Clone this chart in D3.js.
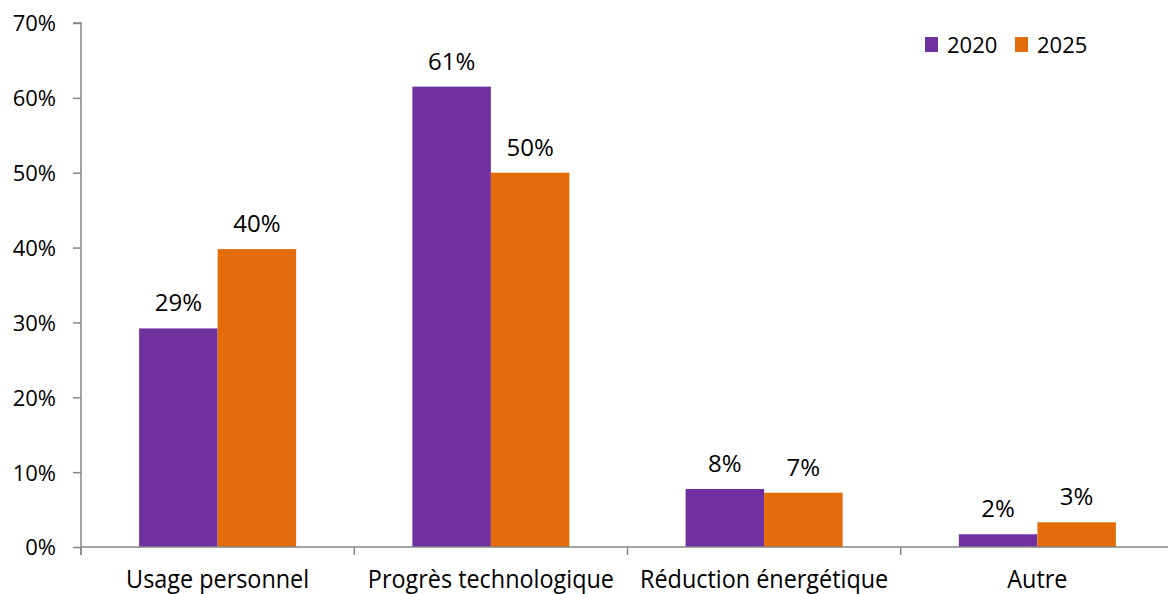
<!DOCTYPE html>
<html><head><meta charset="utf-8">
<script src="https://cdn.jsdelivr.net/npm/d3@7"></script>
<style>body{margin:0;background:#fff}svg{display:block}text{font-family:"Open Sans","Noto Sans",sans-serif}</style>
</head><body><svg id="c" width="1168" height="594"></svg>
<script>
const categories = ["Usage personnel","Progrès technologique","Réduction énergétique","Autre"];
const seriesNames = ["2020","2025"];
const values2020 = [29.2, 61.5, 7.75, 1.7];
const values2025 = [39.8, 50.0, 7.25, 3.3];
const labels2020 = ["29%","61%","8%","2%"];
const labels2025 = ["40%","50%","7%","3%"];
const yTicks = [0,10,20,30,40,50,60,70];
const colors = ["#7030A0","#E46C0A"];

const svg = d3.select("#c");
const x0 = 81, x1 = 1174, yTop = 23, yBot = 547;
const x = d3.scaleBand().domain(categories).range([x0, x1]).paddingInner(0).paddingOuter(0);
const xs = d3.scaleBand().domain(seriesNames).range([0, x.bandwidth()]).paddingOuter(0.74).paddingInner(0);
const y = d3.scaleLinear().domain([0,70]).range([yBot, yTop]);

const axisColor = "#868686";
// y axis
const ya = svg.append("g").attr("transform",`translate(${x0},0)`)
  .call(d3.axisLeft(y).tickValues(yTicks).tickFormat(d=>d+"%").tickSize(8).tickPadding(17));
ya.select(".domain").attr("stroke",axisColor).attr("stroke-width",1.5).attr("d",`M-8,${yTop}H0V${yBot+8}`);
ya.selectAll(".tick line").attr("stroke",axisColor).attr("stroke-width",1.5);
ya.selectAll(".tick text").attr("fill","#000").style("font-size","22px").attr("dy","0.36em");

const series = [values2020, values2025];
const labs = [labels2020, labels2025];
series.forEach((vals,si)=>{
  svg.append("g").selectAll("rect").data(categories).join("rect")
    .attr("x",d=>x(d)+xs(seriesNames[si]))
    .attr("width",xs.bandwidth())
    .attr("y",(d,i)=>y(vals[i]))
    .attr("height",(d,i)=>yBot-y(vals[i]))
    .attr("fill",colors[si]);
  svg.append("g").selectAll("text").data(categories).join("text")
    .attr("x",d=>x(d)+xs(seriesNames[si])+xs.bandwidth()/2)
    .attr("y",(d,i)=>y(vals[i])-17)
    .attr("text-anchor","middle")
    .style("font-size","24px")
    .attr("fill","#000")
    .text((d,i)=>labs[si][i]);
});

// x axis
const xa = svg.append("g").attr("transform",`translate(0,${yBot})`)
  .call(d3.axisBottom(x).tickSize(0).tickPadding(0));
xa.select(".domain").attr("stroke",axisColor).attr("stroke-width",1.5).attr("d",`M${x0},0H${x1}`);
xa.selectAll(".tick text").attr("fill","#000").style("font-size","26px")
  .attr("y",41).attr("dy",0)
  .attr("transform","scale(0.9,1)");
svg.append("g").selectAll("line").data(d3.range(categories.length+1)).join("line")
  .attr("x1",i=>x0+i*x.bandwidth()).attr("x2",i=>x0+i*x.bandwidth())
  .attr("y1",yBot).attr("y2",yBot+8).attr("stroke",axisColor).attr("stroke-width",1.5);

// legend
const lg = svg.append("g");
const lx = [925, 1015];
seriesNames.forEach((s,i)=>{
  lg.append("rect").attr("x",lx[i]).attr("y",37).attr("width",13).attr("height",15).attr("fill",colors[i]);
  lg.append("text").attr("x",lx[i]+22).attr("y",45).attr("dy","0.36em").style("font-size","22px").text(s);
});
</script></body></html>
